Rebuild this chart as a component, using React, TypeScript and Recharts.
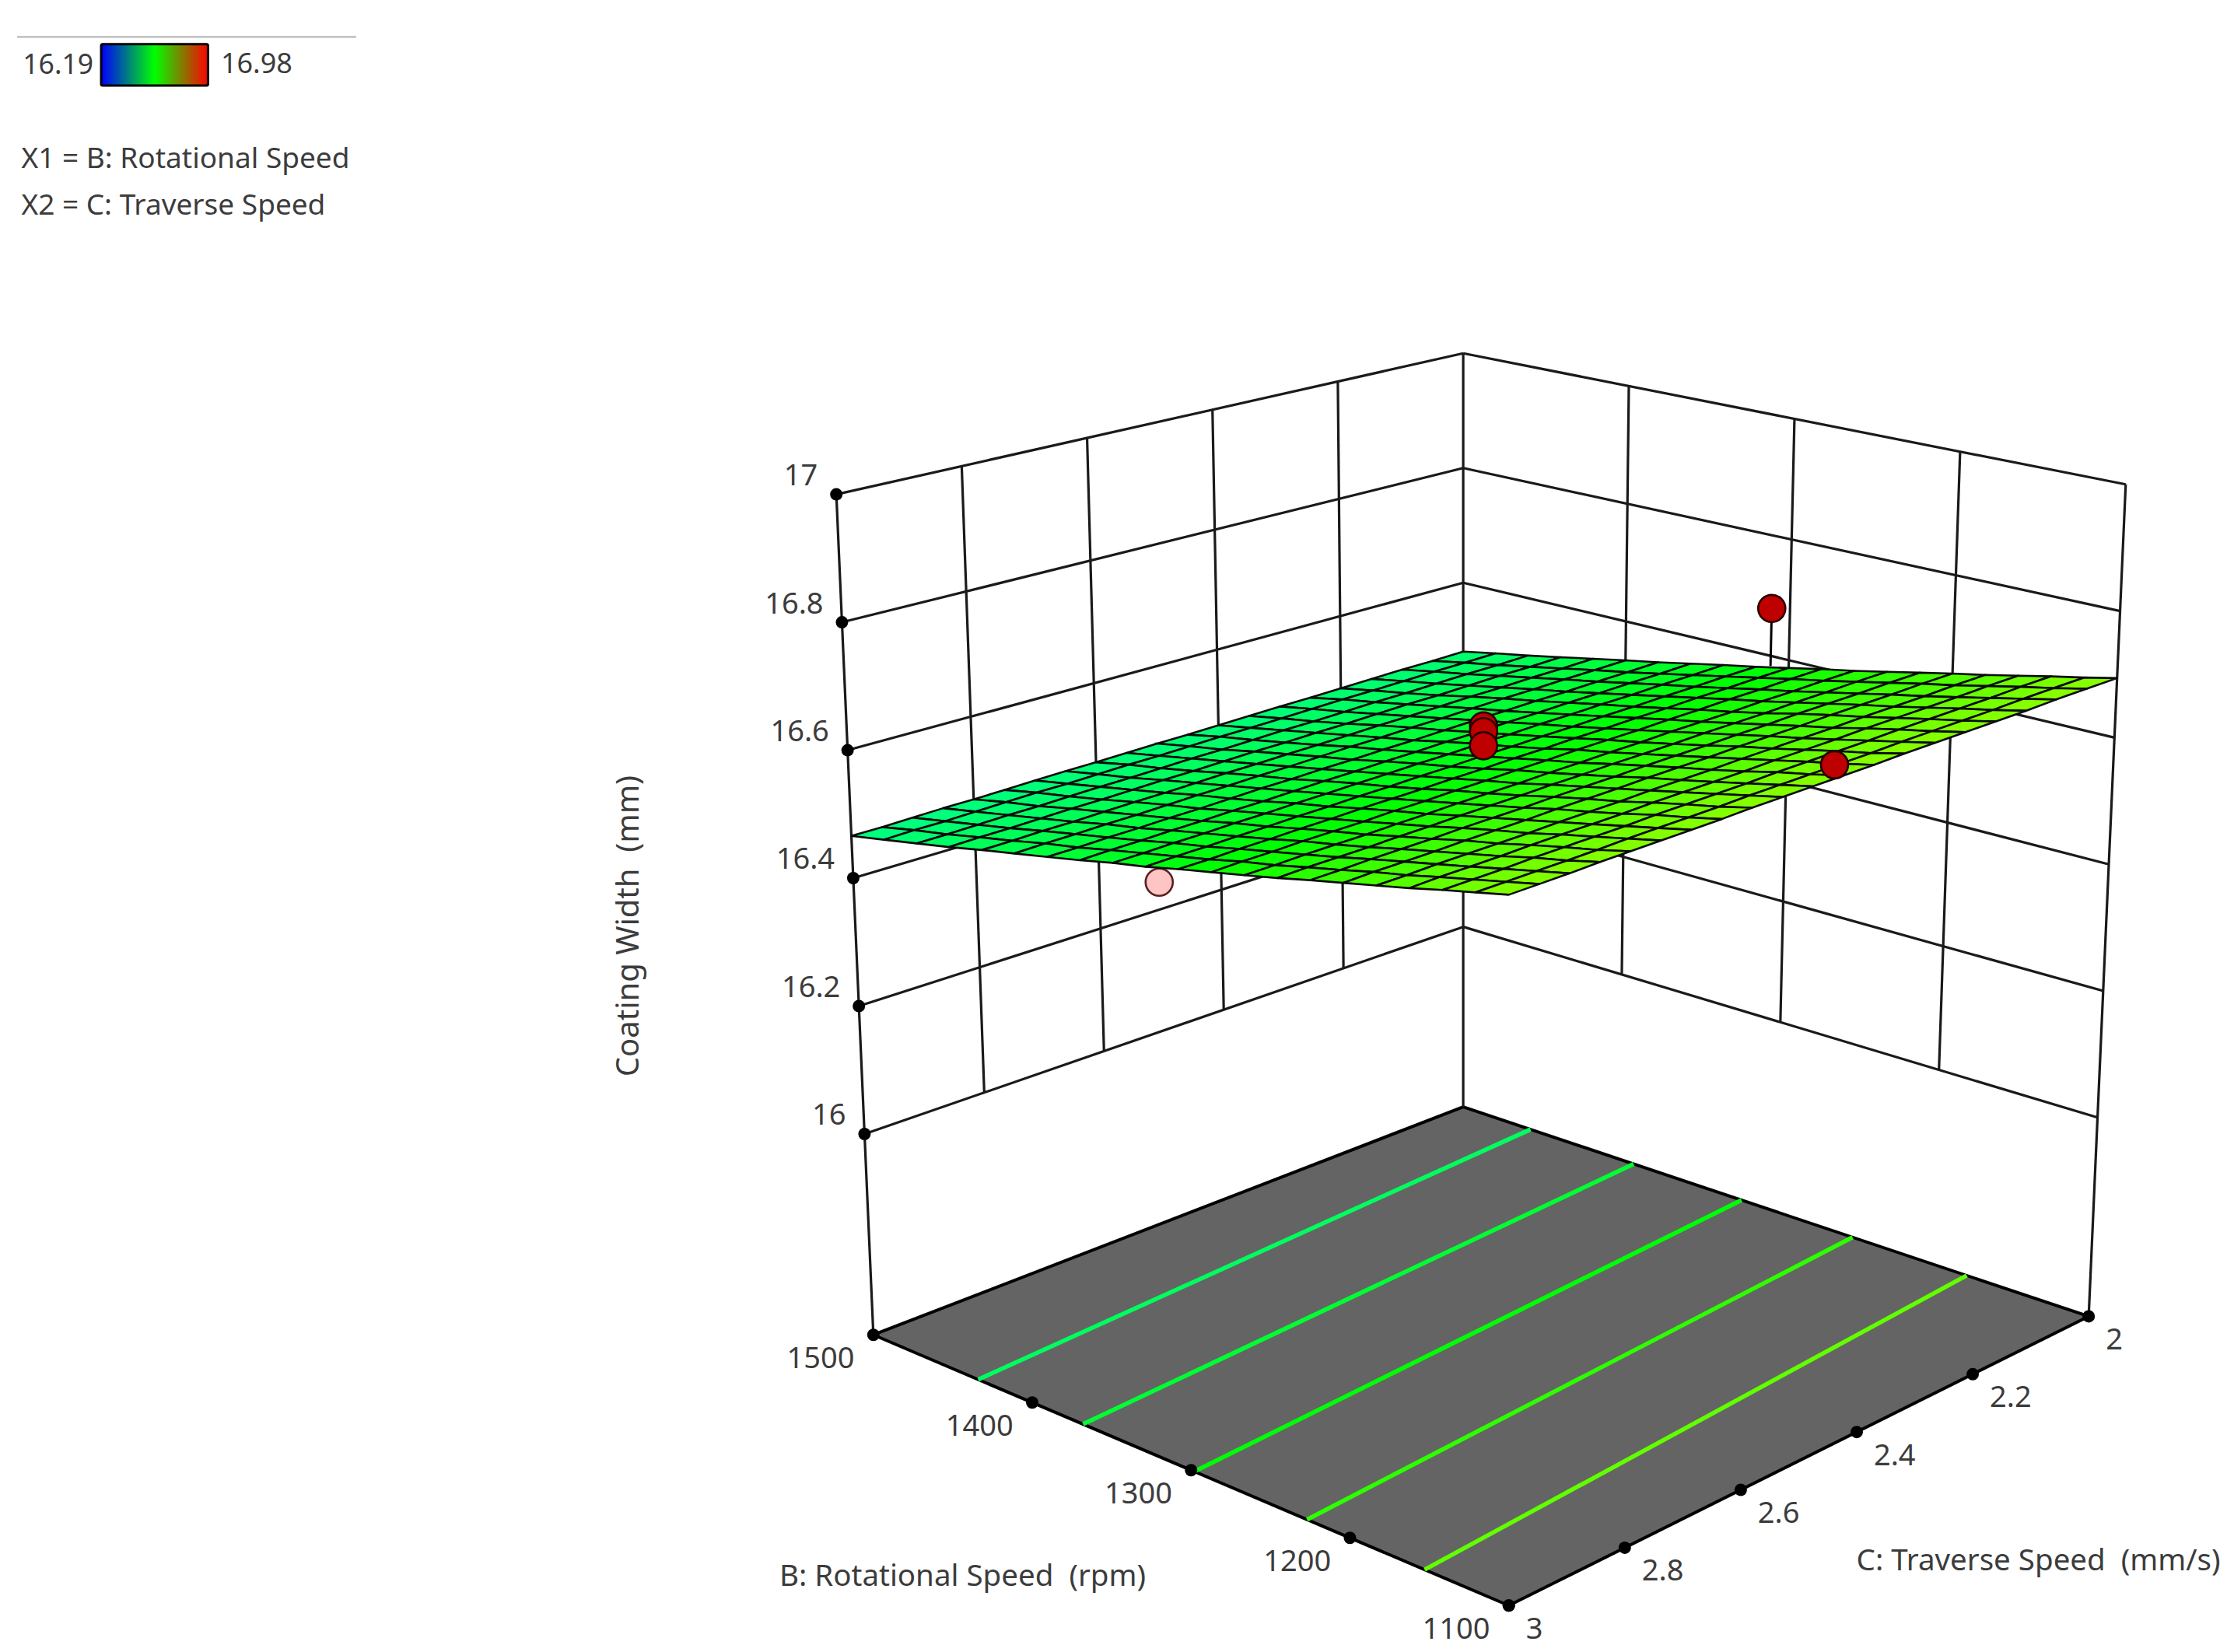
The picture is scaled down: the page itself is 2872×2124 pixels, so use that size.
import React from 'react';
import { ScatterChart, Scatter, XAxis, YAxis } from 'recharts';

const W = 2872;
const H = 2124;

// axes of the response surface plot
const speedTicks = [1500, 1400, 1300, 1200, 1100];
const traverseTicks = [2, 2.2, 2.4, 2.6, 2.8, 3];
const widthTicks = [16, 16.2, 16.4, 16.6, 16.8, 17];
const FLOOR_WIDTH = 15.686;

// fitted surface, rows by speed (1500 -> 1100), columns by traverse (2 -> 3)
const meshSpeeds = [1500, 1480, 1460, 1440, 1420, 1400, 1380, 1360, 1340, 1320, 1300, 1280, 1260, 1240, 1220, 1200, 1180, 1160, 1140, 1120, 1100];
const meshTraverse = [2, 2.05, 2.1, 2.15, 2.2, 2.25, 2.3, 2.35, 2.4, 2.45, 2.5, 2.55, 2.6, 2.65, 2.7, 2.75, 2.8, 2.85, 2.9, 2.95, 3];
const surfaceWidth = [
  [16.48, 16.479, 16.479, 16.478, 16.477, 16.476, 16.476, 16.475, 16.474, 16.473, 16.473, 16.472, 16.471, 16.471, 16.47, 16.469, 16.468, 16.468, 16.467, 16.466, 16.466],
  [16.491, 16.49, 16.49, 16.489, 16.488, 16.488, 16.487, 16.486, 16.485, 16.485, 16.484, 16.483, 16.483, 16.482, 16.481, 16.481, 16.48, 16.479, 16.478, 16.478, 16.477],
  [16.501, 16.5, 16.5, 16.499, 16.498, 16.498, 16.497, 16.496, 16.496, 16.495, 16.494, 16.494, 16.493, 16.492, 16.492, 16.491, 16.49, 16.49, 16.489, 16.488, 16.488],
  [16.512, 16.511, 16.511, 16.51, 16.509, 16.509, 16.508, 16.507, 16.507, 16.506, 16.506, 16.505, 16.504, 16.504, 16.503, 16.502, 16.502, 16.501, 16.5, 16.5, 16.499],
  [16.523, 16.522, 16.522, 16.521, 16.521, 16.52, 16.519, 16.519, 16.518, 16.517, 16.517, 16.516, 16.516, 16.515, 16.514, 16.514, 16.513, 16.512, 16.512, 16.511, 16.511],
  [16.534, 16.533, 16.533, 16.532, 16.532, 16.531, 16.53, 16.53, 16.529, 16.529, 16.528, 16.527, 16.527, 16.526, 16.526, 16.525, 16.524, 16.524, 16.523, 16.523, 16.522],
  [16.544, 16.543, 16.543, 16.542, 16.542, 16.541, 16.541, 16.54, 16.539, 16.539, 16.538, 16.538, 16.537, 16.537, 16.536, 16.535, 16.535, 16.534, 16.534, 16.533, 16.533],
  [16.555, 16.554, 16.554, 16.553, 16.553, 16.552, 16.552, 16.551, 16.551, 16.55, 16.55, 16.549, 16.549, 16.548, 16.547, 16.547, 16.546, 16.546, 16.545, 16.545, 16.544],
  [16.566, 16.565, 16.565, 16.564, 16.564, 16.563, 16.563, 16.562, 16.562, 16.561, 16.561, 16.56, 16.56, 16.559, 16.559, 16.558, 16.558, 16.557, 16.557, 16.556, 16.556],
  [16.576, 16.576, 16.575, 16.575, 16.574, 16.574, 16.573, 16.573, 16.572, 16.572, 16.571, 16.571, 16.57, 16.57, 16.569, 16.569, 16.568, 16.568, 16.567, 16.567, 16.566],
  [16.587, 16.587, 16.586, 16.586, 16.585, 16.585, 16.584, 16.584, 16.583, 16.583, 16.582, 16.582, 16.581, 16.581, 16.581, 16.58, 16.58, 16.579, 16.579, 16.578, 16.578],
  [16.598, 16.598, 16.597, 16.597, 16.596, 16.596, 16.595, 16.595, 16.595, 16.594, 16.594, 16.593, 16.593, 16.592, 16.592, 16.591, 16.591, 16.591, 16.59, 16.59, 16.589],
  [16.608, 16.608, 16.607, 16.607, 16.606, 16.606, 16.606, 16.605, 16.605, 16.604, 16.604, 16.603, 16.603, 16.603, 16.602, 16.602, 16.601, 16.601, 16.601, 16.6, 16.6],
  [16.619, 16.619, 16.618, 16.618, 16.617, 16.617, 16.617, 16.616, 16.616, 16.616, 16.615, 16.615, 16.614, 16.614, 16.614, 16.613, 16.613, 16.612, 16.612, 16.612, 16.611],
  [16.63, 16.63, 16.629, 16.629, 16.629, 16.628, 16.628, 16.627, 16.627, 16.627, 16.626, 16.626, 16.626, 16.625, 16.625, 16.625, 16.624, 16.624, 16.624, 16.623, 16.623],
  [16.641, 16.641, 16.64, 16.64, 16.64, 16.639, 16.639, 16.639, 16.638, 16.638, 16.638, 16.637, 16.637, 16.637, 16.636, 16.636, 16.636, 16.635, 16.635, 16.635, 16.634],
  [16.651, 16.651, 16.65, 16.65, 16.65, 16.649, 16.649, 16.649, 16.649, 16.648, 16.648, 16.648, 16.647, 16.647, 16.647, 16.646, 16.646, 16.646, 16.646, 16.645, 16.645],
  [16.662, 16.662, 16.661, 16.661, 16.661, 16.661, 16.66, 16.66, 16.66, 16.659, 16.659, 16.659, 16.659, 16.658, 16.658, 16.658, 16.658, 16.657, 16.657, 16.657, 16.656],
  [16.673, 16.673, 16.672, 16.672, 16.672, 16.672, 16.671, 16.671, 16.671, 16.671, 16.67, 16.67, 16.67, 16.67, 16.669, 16.669, 16.669, 16.669, 16.668, 16.668, 16.668],
  [16.683, 16.683, 16.683, 16.682, 16.682, 16.682, 16.682, 16.681, 16.681, 16.681, 16.681, 16.681, 16.68, 16.68, 16.68, 16.68, 16.679, 16.679, 16.679, 16.679, 16.679],
  [16.694, 16.694, 16.694, 16.693, 16.693, 16.693, 16.693, 16.693, 16.692, 16.692, 16.692, 16.692, 16.692, 16.691, 16.691, 16.691, 16.691, 16.691, 16.69, 16.69, 16.69],
];

// contour lines on the floor: level, speed where it meets traverse = 2 and traverse = 3
const contourLevels = [16.5, 16.54, 16.58, 16.62, 16.66];
const contourSpeedAt2 = [1457, 1391, 1322, 1251, 1178];
const contourSpeedAt3 = [1434, 1368, 1298, 1227, 1153];

// design points, actual width and the width where the stem meets the surface
const pointSpeeds = [1500, 1300, 1300, 1300, 1300, 1100];
const pointTraverse = [2.502, 2.03, 2.5, 2.5, 2.5, 2.465];
const pointWidths = [16.245, 16.695, 16.649, 16.64, 16.618, 16.713];
const pointFitted = [16.475, 16.6, 16.6, 16.6, 16.6, 16.692];

const LEGEND_MIN = 16.19;
const LEGEND_MAX = 16.98;

const FONT = '"Noto Sans", sans-serif';
const TEXT = '#3c3c3c';
const S = 2872 / 1568;

// screen corners of the plot box, floor and top
const BOX = {
  back: { floor: [1027, 777], top: [1027, 248] },
  right: { floor: [1466, 924], top: [1492, 340] },
  left: { floor: [613, 937], top: [587, 347] },
  front: { floor: [1059, 1127], top: [1059, 474] },
};

const lerp = (a: number, b: number, t: number) => a + (b - a) * t;

const project = (speed: number, traverse: number, width: number) => {
  const u = (1500 - speed) / 400;
  const v = traverse - 2;
  const w = (width - FLOOR_WIDTH) / (17 - FLOOR_WIDTH);
  const at = (level: 'floor' | 'top', i: number) =>
    lerp(lerp(BOX.back[level][i], BOX.right[level][i], u), lerp(BOX.left[level][i], BOX.front[level][i], u), v);
  return {
    x: lerp(at('floor', 0), at('top', 0), w) * S,
    y: lerp(at('floor', 1), at('top', 1), w) * S,
  };
};

const heatColor = (value: number) => {
  const t = (value - LEGEND_MIN) / (LEGEND_MAX - LEGEND_MIN);
  const hue = t < 0.5 ? 120 + 205 * (0.5 - t) : 120 - 240 * (t - 0.5);
  return `hsl(${hue}, 100%, 50%)`;
};

const NoMark = () => <g />;

const Polygon = ({ cx, cy, payload }: any) => (
  <polygon
    points={payload.corners.map((c: any) => `${cx + c.x - payload.x},${cy + c.y - payload.y}`).join(' ')}
    fill={payload.fill}
    stroke={payload.stroke}
    strokeWidth={payload.strokeWidth}
    strokeLinejoin="round"
  />
);

const polygonDatum = (corners: { x: number; y: number }[], fill: string, stroke: string, strokeWidth: number) => ({
  x: corners[0].x,
  y: corners[0].y,
  corners,
  fill,
  stroke,
  strokeWidth,
});

const Dot = ({ cx, cy, payload }: any) => (
  <circle cx={cx} cy={cy} r={payload.r} fill={payload.fill} stroke={payload.stroke} strokeWidth={payload.strokeWidth} />
);

const Label = ({ cx, cy, payload }: any) => (
  <text
    x={cx}
    y={cy}
    fontFamily={FONT}
    fontSize={payload.size ?? 38}
    fill={TEXT}
    textAnchor={payload.anchor ?? 'start'}
    dominantBaseline="central"
    transform={payload.rotate ? `rotate(${payload.rotate} ${cx} ${cy})` : undefined}
    style={{ whiteSpace: 'pre' }}
  >
    {payload.text}
  </text>
);

const LegendBar = ({ cx, cy }: any) => (
  <g>
    <defs>
      <linearGradient id="heatBar" x1="0" x2="1" y1="0" y2="0">
        <stop offset="0" stopColor="#0000ff" />
        <stop offset="0.5" stopColor="#00ff00" />
        <stop offset="1" stopColor="#ff0000" />
      </linearGradient>
    </defs>
    <rect x={cx} y={cy} width={75 * S} height={29 * S} rx={2} fill="url(#heatBar)" stroke="#000" strokeWidth={3} />
  </g>
);

const line = (key: string, a: any, b: any, stroke: string, strokeWidth: number) => (
  <Scatter
    key={key}
    data={[a, b]}
    line={{ stroke, strokeWidth }}
    shape={NoMark}
    isAnimationActive={false}
  />
);

const WALL = '#1a1a1a';
const WALL_W = 3.2;
const wallLines: React.ReactNode[] = [];
widthTicks.forEach((z) => {
  wallLines.push(line(`l${z}`, project(1500, 3, z), project(1500, 2, z), WALL, WALL_W));
  wallLines.push(line(`r${z}`, project(1500, 2, z), project(1100, 2, z), WALL, WALL_W));
});
traverseTicks.slice(1, 5).forEach((c) => {
  wallLines.push(line(`vc${c}`, project(1500, c, 16), project(1500, c, 17), WALL, WALL_W));
});
speedTicks.slice(1, 4).forEach((b) => {
  wallLines.push(line(`vb${b}`, project(b, 2, 16), project(b, 2, 17), WALL, WALL_W));
});
wallLines.push(line('e1', project(1500, 3, FLOOR_WIDTH), project(1500, 3, 17), WALL, WALL_W));
wallLines.push(line('e2', project(1500, 2, FLOOR_WIDTH), project(1500, 2, 17), WALL, WALL_W));
wallLines.push(line('e3', project(1100, 2, FLOOR_WIDTH), project(1100, 2, 17), WALL, WALL_W));

const floorData = [
  polygonDatum(
    [project(1500, 2, FLOOR_WIDTH), project(1100, 2, FLOOR_WIDTH), project(1100, 3, FLOOR_WIDTH), project(1500, 3, FLOOR_WIDTH)],
    '#646464',
    '#000',
    4,
  ),
];

const contourLines = contourLevels.map((level, i) =>
  line(`c${level}`, project(contourSpeedAt2[i], 2, FLOOR_WIDTH), project(contourSpeedAt3[i], 3, FLOOR_WIDTH), heatColor(level), 5.5),
);

const cellData: any[] = [];
meshSpeeds.slice(0, -1).forEach((b, i) => {
  meshTraverse.slice(0, -1).forEach((c, j) => {
    const nextB = meshSpeeds[i + 1];
    const nextC = meshTraverse[j + 1];
    const mean = (surfaceWidth[i][j] + surfaceWidth[i + 1][j] + surfaceWidth[i][j + 1] + surfaceWidth[i + 1][j + 1]) / 4;
    cellData.push(
      polygonDatum(
        [
          project(b, c, surfaceWidth[i][j]),
          project(nextB, c, surfaceWidth[i + 1][j]),
          project(nextB, nextC, surfaceWidth[i + 1][j + 1]),
          project(b, nextC, surfaceWidth[i][j + 1]),
        ],
        heatColor(mean),
        '#0a0a0a',
        2.6,
      ),
    );
  });
});

const pointIndexes = pointSpeeds.map((_, i) => i);
const below = pointIndexes.filter((i) => pointWidths[i] < pointFitted[i]);
const above = pointIndexes.filter((i) => pointWidths[i] >= pointFitted[i]);
const pointDatum = (i: number, fill: string, stroke: string) => ({
  ...project(pointSpeeds[i], pointTraverse[i], pointWidths[i]),
  r: 17.5,
  fill,
  stroke,
  strokeWidth: 2.6,
});
const stem = (i: number) =>
  line(
    `s${i}`,
    project(pointSpeeds[i], pointTraverse[i], pointWidths[i]),
    project(pointSpeeds[i], pointTraverse[i], pointFitted[i]),
    '#000',
    3,
  );

const tickDot = (p: { x: number; y: number }) => ({ ...p, r: 8, fill: '#000', stroke: 'none', strokeWidth: 0 });
const tickDots = [
  ...widthTicks.map((z) => tickDot(project(1500, 3, z))),
  ...speedTicks.map((b) => tickDot(project(b, 3, FLOOR_WIDTH))),
  ...traverseTicks.map((c) => tickDot(project(1100, c, FLOOR_WIDTH))),
];

const offset = (p: { x: number; y: number }, dx: number, dy: number) => ({ x: p.x + dx * S, y: p.y + dy * S });

const labels = [
  ...widthTicks.map((z) => ({ ...offset(project(1500, 3, z), -13, -14.5), text: String(z), anchor: 'end' })),
  ...speedTicks.map((b) => ({ ...offset(project(b, 3, FLOOR_WIDTH), -37, 15), text: String(b), anchor: 'middle' })),
  ...traverseTicks.map((c) => ({ ...offset(project(1100, c, FLOOR_WIDTH), 12, 15), text: String(c), anchor: 'start' })),
  { x: 16 * S, y: 44 * S, text: String(LEGEND_MIN), size: 35.5 },
  { x: 155 * S, y: 44 * S, text: String(LEGEND_MAX), size: 36 },
  { x: 15 * S, y: 110 * S, text: 'X1 = B: Rotational Speed', size: 37 },
  { x: 15 * S, y: 143 * S, text: 'X2 = C: Traverse Speed', size: 37 },
  { x: 547 * S, y: 1105 * S, text: 'B: Rotational Speed  (rpm)', size: 38.5 },
  { x: 1303 * S, y: 1094 * S, text: 'C: Traverse Speed  (mm/s)', size: 38.5 },
  { x: 440 * S, y: 650 * S, text: 'Coating Width  (mm)', anchor: 'middle', rotate: -90, size: 40 },
];

export default function App() {
  return (
    <div style={{ position: 'absolute', left: 0, top: 0, width: W, height: H, background: '#fff' }}>
      <ScatterChart width={W} height={H} margin={{ top: 0, right: 0, bottom: 0, left: 0 }}>
        <XAxis dataKey="x" type="number" domain={[0, W]} hide />
        <YAxis dataKey="y" type="number" domain={[0, H]} reversed hide />

        {line('legendRule', { x: 12 * S, y: 26 * S }, { x: 250 * S, y: 26 * S }, '#b0b0b0', 2)}
        <Scatter data={[{ x: 71 * S, y: 31 * S }]} shape={LegendBar} isAnimationActive={false} />

        <Scatter data={floorData} shape={Polygon} isAnimationActive={false} />
        {contourLines}
        {wallLines}

        {below.map(stem)}
        <Scatter data={below.map((i) => pointDatum(i, '#ffc4c4', '#5a2020'))} shape={Dot} isAnimationActive={false} />

        <Scatter data={cellData} shape={Polygon} isAnimationActive={false} />

        {above.map(stem)}
        <Scatter data={above.map((i) => pointDatum(i, '#bf0000', '#2a0000'))} shape={Dot} isAnimationActive={false} />

        <Scatter data={tickDots} shape={Dot} isAnimationActive={false} />
        <Scatter data={labels} shape={Label} isAnimationActive={false} />
      </ScatterChart>
    </div>
  );
}
